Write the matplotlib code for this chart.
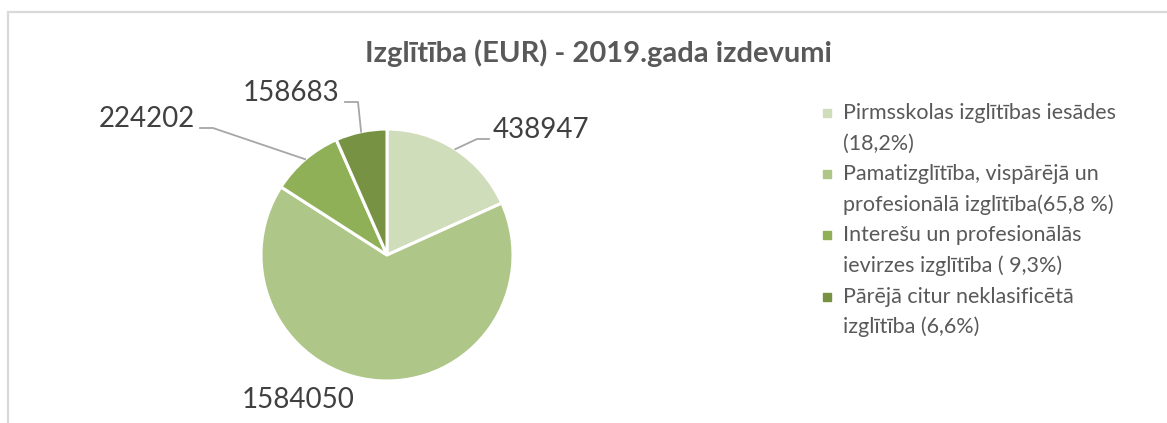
import numpy as np
import matplotlib
matplotlib.use("Agg")
import matplotlib.pyplot as plt
from matplotlib.patches import Rectangle
from matplotlib.lines import Line2D

# data
values = [438947, 1584050, 224202, 158683]
legend_labels = [
    "Pirmsskolas izglītības iesādes\n(18,2%)",
    "Pamatizglītība, vispārējā un\nprofesionālā izglītība(65,8 %)",
    "Interešu un profesionālās\nievirzes izglītība ( 9,3%)",
    "Pārējā citur neklasificētā\nizglītība (6,6%)",
]
colors = ["#D0DDBA", "#AEC788", "#90B058", "#789244"]
title = "Izglītība (EUR) - 2019.gada izdevumi"

W, H = 1167, 423
plt.rcParams["font.family"] = ["Lato", "DejaVu Sans"]

fig = plt.figure(figsize=(W / 100, H / 100), dpi=100)


def px(x, y):
    # pixel position (from top-left) -> figure fraction
    return x / W, 1 - y / H


# light grey chart frame, cut by the image edge on the right and bottom
fig.patches.append(Rectangle(px(8, 440), 1.2, (440 - 12) / H, transform=fig.transFigure,
                             fill=False, edgecolor="#D9D9D9", lw=1.6))

fig.text(*px(598, 53), title, ha="center", va="center", fontsize=21,
         fontweight="bold", color="#595959")

# pie: centre (387, 255), radius 126 px
cx, cy, r = 387, 255, 126
ax = fig.add_axes([(cx - r) / W, 1 - (cy + r) / H, 2 * r / W, 2 * r / H])
wedges, _ = ax.pie(values, colors=colors, startangle=90, counterclock=False,
                   wedgeprops=dict(edgecolor="white", linewidth=2.2))
ax.set_xlim(-1, 1)
ax.set_ylim(-1, 1)
ax.set_aspect("auto")
ax.axis("off")

# data labels: (text centre, elbow, line end) in pixels; None = no leader
label_layout = [
    ((541, 130), (477, 139), (489, 139), "left"),
    ((298, 400), None, None, "center"),
    ((147, 119), (213, 128), (200, 128), "center"),
    ((291, 93), (358, 102), (345, 102), "center"),
]
for w, v, (tpos, elbow, end, ha) in zip(wedges, values, label_layout):
    mid = np.deg2rad((w.theta1 + w.theta2) / 2)
    rim = (cx + r * np.cos(mid), cy - r * np.sin(mid))
    if elbow is not None:
        xs, ys = zip(*[px(*rim), px(*elbow), px(*end)])
        fig.add_artist(Line2D(xs, ys, transform=fig.transFigure,
                              color="#A6A6A6", lw=1.3))
    tx = tpos[0] if ha == "center" else 493
    fig.text(*px(tx, tpos[1]), str(v), ha=ha, va="center", fontsize=20,
             color="#404040")

# legend, drawn line by line to match the spacing
line_h = 30.6
y = 113
for col, lab in zip(colors, legend_labels):
    fig.patches.append(Rectangle(px(823, y + 4), 8 / W, 8 / H,
                                 transform=fig.transFigure, color=col))
    for line in lab.split("\n"):
        fig.text(*px(843, y), line, ha="left", va="center", fontsize=15.5,
                 color="#595959")
        y += line_h

fig.savefig("out.png", dpi=100)
